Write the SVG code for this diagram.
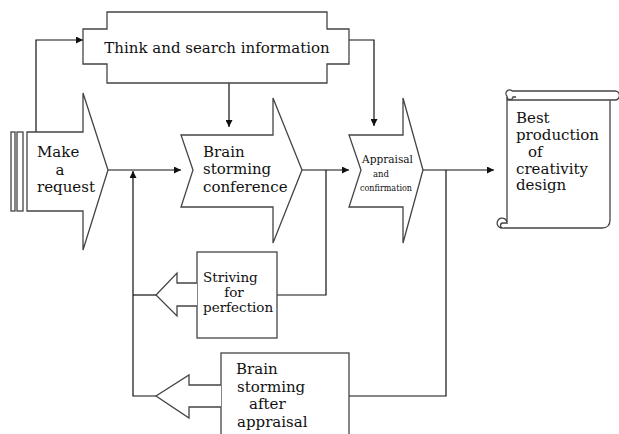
<svg xmlns="http://www.w3.org/2000/svg" width="619" height="434" viewBox="0 0 619 434">
<style>
.shape{fill:#fff;stroke:#444;stroke-width:1.3;stroke-linejoin:miter}
.line{fill:none;stroke:#111;stroke-width:1.2}
.t{font-family:"DejaVu Serif","Liberation Serif",serif;font-size:15px;fill:#111}
.s{font-family:"DejaVu Serif","Liberation Serif",serif;font-size:13.5px;fill:#111}
.x{font-family:"DejaVu Serif","Liberation Serif",serif;fill:#111}
</style>
<defs>
<marker id="ah" viewBox="0 0 10 10" refX="10" refY="5" markerWidth="8" markerHeight="7" markerUnits="userSpaceOnUse" orient="auto">
<path d="M0,0 L10,5 L0,10 z" fill="#111"/>
</marker>
</defs>
<rect width="619" height="434" fill="#fff"/>

<g id="connectors">
<path class="line" d="M36,132 V40 H83" marker-end="url(#ah)"/>
<path class="line" d="M349,40 H374 V126" marker-end="url(#ah)"/>
<path class="line" d="M229,83 V127" marker-end="url(#ah)" stroke-width="1.8"/>
<path class="line" d="M108,170 H181" marker-end="url(#ah)"/>
<path class="line" d="M302,170 H349" marker-end="url(#ah)"/>
<path class="line" d="M423,170 H494" marker-end="url(#ah)"/>
<path class="line" d="M326,170 V295 H277"/>
<path class="line" d="M446,170 V396 H349"/>
<path class="line" d="M156,295 H133"/>
<path class="line" d="M156,396 H133 V171" marker-end="url(#ah)"/>
</g>

<g id="think">
<path class="shape" d="M107,12 H327 V29 H349 V64 H327 V83 H107 V64 H83 V29 H107 Z"/>
<text class="t" x="217" y="53" text-anchor="middle">Think and search information</text>
</g>

<g id="make-request">
<rect class="shape" x="11" y="132" width="4" height="79"/>
<rect class="shape" x="17" y="132" width="6" height="79"/>
<path class="shape" d="M27,132 H83 V93 L108,170 L83,250 V211 H27 Z"/>
<text class="t" x="37" y="157">Make</text>
<text class="t" x="60" y="175" text-anchor="middle">a</text>
<text class="t" x="37" y="192">request</text>
</g>

<g id="brainstorming-conference">
<path class="shape" d="M181,135 H273 V98 L302,170 L273,243 V207 H181 L193,170 Z"/>
<text class="t" x="203" y="157">Brain</text>
<text class="t" x="203" y="174">storming</text>
<text class="t" x="203" y="192">conference</text>
</g>

<g id="appraisal">
<path class="shape" d="M349,135 H403 V98 L423,170 L403,243 V207 H349 L361,170 Z"/>
<text class="x" x="362" y="163" font-size="11" textLength="51" lengthAdjust="spacingAndGlyphs">Appraisal</text>
<text class="x" x="373" y="177" font-size="8.5">and</text>
<text class="x" x="360" y="191" font-size="10" textLength="52" lengthAdjust="spacingAndGlyphs">confirmation</text>
</g>

<g id="best-production">
<path class="shape" d="M512,91 H615 A4.5,4.5 0 0 1 615,100 H507"/>
<path class="shape" d="M507,96 A3,3 0 0 1 512,91 M507,96 A2.5,2.5 0 0 0 513,97 H516"/>
<path class="shape" d="M507,97 V224 M610,100 V220 Q610,228 602,228 H503"/>
<path class="shape" d="M503,228 A5,5 0 1 1 507,222 M503,228 A2.5,2.5 0 0 1 503,223 H507"/>
<text class="t" x="516" y="123">Best</text>
<text class="t" x="516" y="140">production</text>
<text class="t" x="528" y="157">of</text>
<text class="t" x="516" y="174">creativity</text>
<text class="t" x="516" y="190">design</text>
</g>

<g id="striving">
<rect class="shape" x="197" y="252" width="80" height="86"/>
<path class="shape" d="M197,283 H177 V273 L156,295 L177,316 V306 H197"/>
<text class="s" x="203" y="282">Striving</text>
<text class="s" x="234" y="297" text-anchor="middle">for</text>
<text class="s" x="203" y="312">perfection</text>
</g>

<g id="brainstorming-after">
<rect class="shape" x="221" y="353" width="128" height="90"/>
<path class="shape" d="M221,385 H189 V375 L156,396 L189,418 V407 H221"/>
<text class="t" x="236" y="374">Brain</text>
<text class="t" x="237" y="392">storming</text>
<text class="t" x="249" y="409">after</text>
<text class="t" x="237" y="427">appraisal</text>
</g>
</svg>
